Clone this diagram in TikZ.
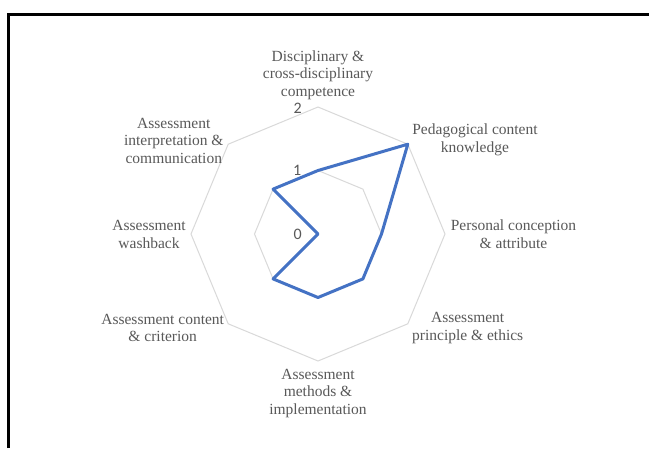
\documentclass[tikz,border=0pt]{standalone}
\usepackage{fontspec}
\setmainfont{Liberation Serif}
\newfontfamily\digitfont{Carlito}
\definecolor{txtgray}{HTML}{595959}
\definecolor{gridgray}{HTML}{D9D9D9}
\definecolor{serblue}{HTML}{4472C4}
\begin{document}
\begin{tikzpicture}[x=1pt,y=-1pt,
  cat/.style={align=center,text=txtgray,font=\fontsize{15.5}{17.7}\selectfont,inner sep=0pt},
  tick/.style={text=txtgray,font=\digitfont\fontsize{16}{16}\selectfont,inner sep=0pt},
  gridline/.style={draw=gridgray,line width=1pt,line join=miter},
  series/.style={draw=serblue,line width=3pt,line join=round,line cap=round},
  frame/.style={draw=black,line width=3pt}]
\useasboundingbox (0,0) rectangle (649,448);
\fill[white] (0,0) rectangle (649,448);
% frame (left and top edges)
\coordinate (fb) at (8.5,448);
\coordinate (fc) at (8.5,14);
\coordinate (fr) at (649,14);
\draw[frame] (fb) -- (fc) -- (fr);
% centre
\coordinate (c) at (318,234);
% outer ring (value 2)
\coordinate (o1) at (318,107);
\coordinate (o2) at (407.8,144.2);
\coordinate (o3) at (445,234);
\coordinate (o4) at (407.8,323.8);
\coordinate (o5) at (318,361);
\coordinate (o6) at (228.2,323.8);
\coordinate (o7) at (191,234);
\coordinate (o8) at (228.2,144.2);
% inner ring (value 1)
\coordinate (i1) at (318,170.5);
\coordinate (i2) at (362.9,189.1);
\coordinate (i3) at (381.5,234);
\coordinate (i4) at (362.9,278.9);
\coordinate (i5) at (318,297.5);
\coordinate (i6) at (273.1,278.9);
\coordinate (i7) at (254.5,234);
\coordinate (i8) at (273.1,189.1);
\draw[gridline] (o1) -- (o2) -- (o3) -- (o4) -- (o5) -- (o6) -- (o7) -- (o8) -- cycle;
\draw[gridline] (i1) -- (i2) -- (i3) -- (i4) -- (i5) -- (i6) -- (i7) -- (i8) -- cycle;
% data series
\draw[series] (i1) -- (o2) -- (i3) -- (i4) -- (i5) -- (i6) -- (c) -- (i8) -- cycle;
% axis ticks
\node[tick] (t2) at (297.7,108) {2};
\node[tick] (t1) at (297.3,170.5) {1};
\node[tick] (t0) at (297.7,234.3) {0};
% category labels
\node[cat] (l1) at (318,75) {Disciplinary \&\\cross-disciplinary\\competence};
\node[cat] (l2) at (475,140) {Pedagogical content\\knowledge};
\node[cat] (l3) at (513.5,234.5) {Personal conception\\\& attribute};
\node[cat] (l4) at (467.7,327.9) {Assessment\\principle \& ethics};
\node[cat] (l5) at (318,393.3) {Assessment\\methods \&\\implementation};
\node[cat] (l6) at (162.7,327.9) {Assessment content\\\& criterion};
\node[cat] (l7) at (149,234.2) {Assessment\\washback};
\node[cat] (l8) at (173.8,140.7) {Assessment\\interpretation \&\\communication};
\end{tikzpicture}
\end{document}
